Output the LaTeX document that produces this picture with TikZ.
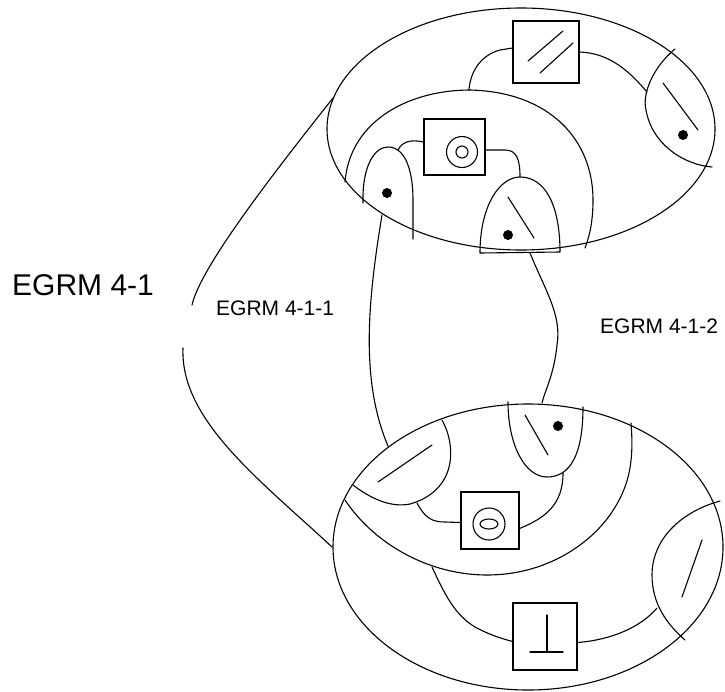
\documentclass[tikz,border=0pt]{standalone}
\usepackage{fontspec}
\setmainfont{Liberation Sans}
\usetikzlibrary{calc}
\begin{document}
\begin{tikzpicture}[x=1pt,y=-1pt,
  ln/.style={line width=1.1pt, line join=round, line cap=round},
  box/.style={draw, line width=1.1pt, inner sep=0pt, fill=none},
  dotf/.style={fill=black},
  big/.style={anchor=base west, inner sep=0pt, font=\fontsize{30}{36}\selectfont},
  small/.style={anchor=base west, inner sep=0pt, font=\fontsize{21}{25}\selectfont}]
\useasboundingbox (0,0) rectangle (725,691);
\fill[white] (0,0) rectangle (725,691);

% labels
\node[big] (t1) at (12,295) {EGRM 4-1};
\node[small] (t2) at (216,315) {EGRM 4-1-1};
\node[small] (t3) at (600,333) {EGRM 4-1-2};

% ===== top ellipse =====
\draw[ln] (521,129) ellipse [x radius=194pt, y radius=121pt];
% inner arc
\draw[ln] (345,182) .. controls (350,120) and (410,90) .. (470,90)
  .. controls (550,92) and (593,140) .. (593,200)
  .. controls (593,220) and (590,235) .. (585,248);
% boxes
\node[box, minimum width=66pt, minimum height=62pt] (b1) at (546,52) {};
\draw[ln] (528,61) -- (563,31);
\draw[ln] (540,73) -- (573,43);
\node[box, minimum width=61pt, minimum height=56pt] (b2) at (454.5,147) {};
\draw[ln] (462,152) circle [radius=15.5pt];
\draw[ln] (462,152) circle [radius=6pt];
% right lobe (top)
\draw[ln] (675,49) .. controls (652,68) and (642,95) .. (646,110)
  .. controls (652,145) and (685,165) .. (712,167);
\draw[ln] (663,83) -- (698,130);
\fill (683,135) circle [radius=5pt];
% left lobe (top)
\draw[ln] (363,203) .. controls (362,165) and (375,147) .. (388,147)
  .. controls (405,147) and (413,170) .. (413,200) -- (413,239);
\fill (387,193) circle [radius=5pt];
% bottom-centre lobe (top)
\draw[ln] (480,253) .. controls (480,205) and (500,177) .. (520,177)
  .. controls (545,177) and (560,205) .. (560,252) -- (480,253);
\draw[ln] (508,197) -- (534,238);
\fill (508,235) circle [radius=5pt];
% connectors (top)
\coordinate (iatop) at (469,90);
\coordinate (rl1) at (647,92);
\coordinate (ll1) at (398,150);
\coordinate (cl1) at (520,177);
\draw[ln] ($(b1.west)+(0,-4)$) -- (500,50) .. controls (478,56) and (470,75) .. (iatop);
\draw[ln] (b1.east) .. controls (610,53) and (630,72) .. (rl1);
\draw[ln] ($(b2.west)+(0,-5)$) .. controls (410,139) and (402,142) .. (ll1);
\draw[ln] ($(b2.east)+(0,3)$) -- (505,150) .. controls (517,150) and (520,160) .. (cl1);

% ===== connectors between ellipses =====
\coordinate (a1) at (382,215);
\coordinate (a2) at (388,446);
\coordinate (c1) at (530,253);
\coordinate (c2) at (542,403);
\draw[ln] (a1) .. controls (368,300) and (360,380) .. (a2);
\draw[ln] (c1) .. controls (545,290) and (562,315) .. (557,345)
  .. controls (554,375) and (545,390) .. (c2);
% outer left lines
\coordinate (o1) at (333,98);
\coordinate (o2) at (192,305);
\coordinate (o3) at (183,348);
\coordinate (o4) at (332,547);
\draw[ln] (o1) .. controls (260,190) and (200,270) .. (o2);
\draw[ln] (o3) .. controls (180,420) and (260,480) .. (o4);

% ===== bottom ellipse =====
\draw[ln] (528,547) ellipse [x radius=195pt, y radius=143pt];
% inner arc
\draw[ln] (345,500) .. controls (375,545) and (430,575) .. (487,575)
  .. controls (545,575) and (590,545) .. (612,512)
  .. controls (630,485) and (634,460) .. (631,423);
% left lobe
\draw[ln] (442,420) .. controls (456,445) and (458,490) .. (410,504)
  .. controls (390,508) and (370,498) .. (353,485);
\draw[ln] (378,482) -- (432,445);
% top lobe with dot
\draw[ln] (508,402) .. controls (508,445) and (525,477) .. (547,477)
  .. controls (570,477) and (583,455) .. (583,407);
\draw[ln] (525,415) -- (548,455);
\fill (558,426) circle [radius=5pt];
% right lobe
\draw[ln] (720,501) .. controls (680,512) and (652,540) .. (652,575)
  .. controls (652,605) and (668,625) .. (685,640);
\draw[ln] (702,540) -- (682,597);
% boxes
\node[box, minimum width=58pt, minimum height=57pt] (b3) at (490,520.5) {};
\draw[ln] (489,524) circle [radius=16pt];
\draw[ln] (489,524) ellipse [x radius=9pt, y radius=5pt];
\node[box, minimum width=64pt, minimum height=67pt] (b4) at (545,636.5) {};
\draw[ln] (547,615) -- (547,652);
\draw[ln] (530,652) -- (563,652);
% connectors (bottom)
\coordinate (ll2) at (417,503);
\coordinate (tl2) at (563,473);
\coordinate (ia2) at (432,567);
\coordinate (rl2) at (657,608);
\draw[ln] (ll2) .. controls (425,518) and (432,522) .. (445,522) -- ($(b3.west)+(0,2)$);
\draw[ln] ($(b3.east)+(0,8)$) .. controls (545,518) and (563,505) .. (tl2);
\draw[ln] ($(b4.west)+(0,5)$) .. controls (500,638) and (490,635) .. (475,627)
  .. controls (455,615) and (445,595) .. (ia2);
\draw[ln] ($(b4.east)+(0,6)$) .. controls (610,640) and (640,628) .. (rl2);
\end{tikzpicture}
\end{document}
